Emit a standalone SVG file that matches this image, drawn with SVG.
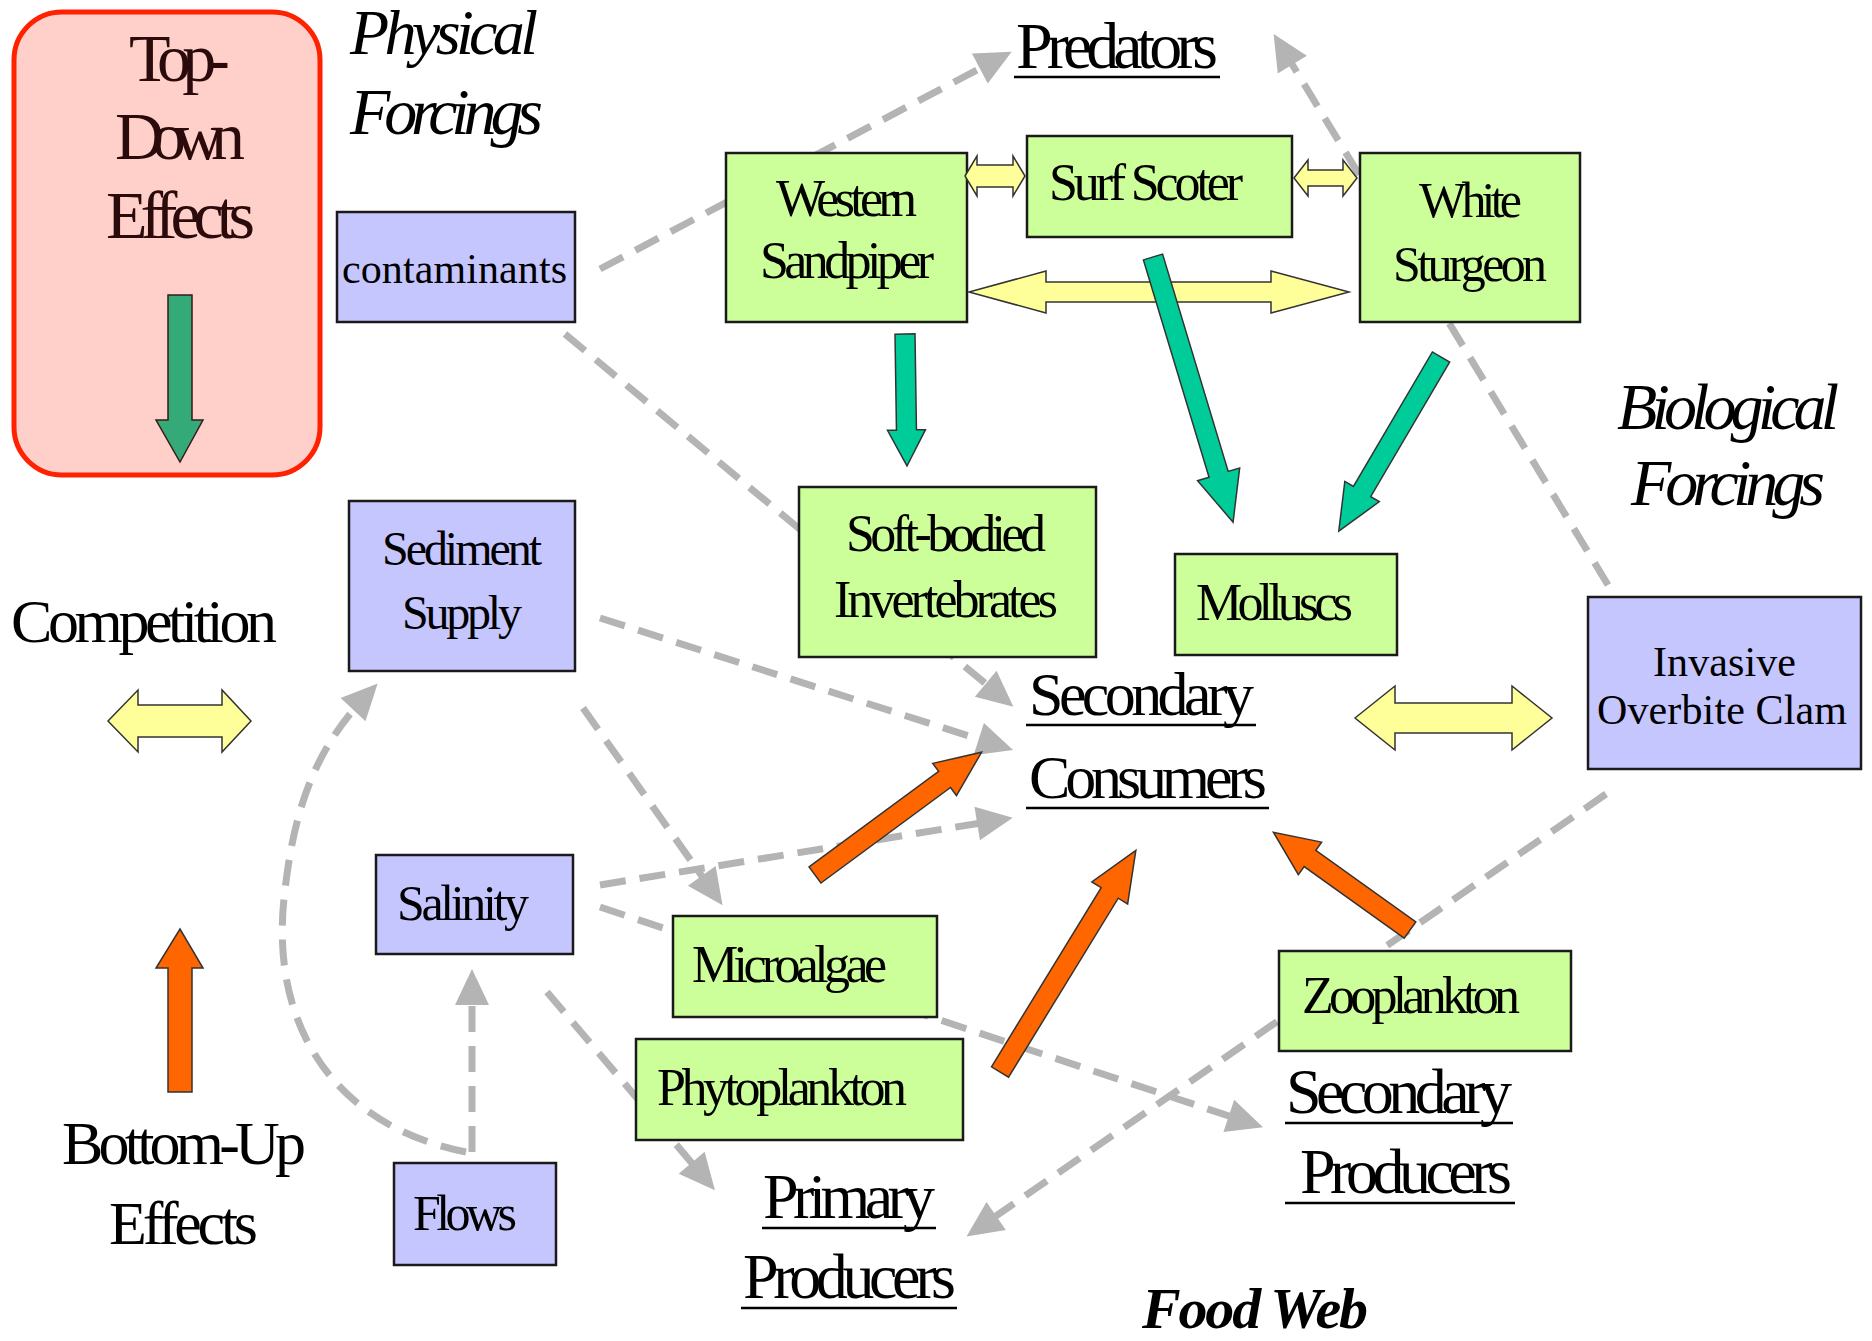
<svg xmlns="http://www.w3.org/2000/svg" width="1872" height="1341" viewBox="0 0 1872 1341">
<defs>
<style>
text{font-family:"Liberation Serif","Times New Roman",serif;fill:#000}
.t{lengthAdjust:spacingAndGlyphs}
.blue{fill:#C6C6FF;stroke:#1a1a1a;stroke-width:2.5}
.green{fill:#CCFF99;stroke:#1a1a1a;stroke-width:2.5}
.dash{fill:none;stroke:#B4B4B4;stroke-width:7;stroke-dasharray:26 14}
.yel{fill:#FFFF99;stroke:#333;stroke-width:1.5}
.teal{fill:#00CC99;stroke:#333;stroke-width:1.5}
.org{fill:#FF6600;stroke:#333;stroke-width:1.5}
.ul{stroke:#000;stroke-width:2.5}
.it{font-style:italic}
.td{fill:#2a0a0a}
</style>
<marker id="ah" markerUnits="userSpaceOnUse" viewBox="-20 -20 40 40" markerWidth="40" markerHeight="40" refX="0" refY="0" orient="auto">
<path d="M20,0 L-16,-17 L-16,17 Z" fill="#B4B4B4"/>
</marker>
</defs>
<rect width="1872" height="1341" fill="#fff"/>

<g id="connectors">
<line class="dash" x1="600" y1="269" x2="994" y2="61" marker-end="url(#ah)"/>
<line class="dash" x1="1608" y1="585" x2="1284" y2="51" marker-end="url(#ah)"/>
<line class="dash" x1="565" y1="334" x2="998" y2="694" marker-end="url(#ah)"/>
<line class="dash" x1="600" y1="618" x2="994" y2="744" marker-end="url(#ah)"/>
<line class="dash" x1="583" y1="708" x2="711" y2="889" marker-end="url(#ah)"/>
<line class="dash" x1="600" y1="885" x2="993" y2="821" marker-end="url(#ah)"/>
<line class="dash" x1="600" y1="907" x2="1244" y2="1121" marker-end="url(#ah)"/>
<line class="dash" x1="547" y1="992" x2="702" y2="1175" marker-end="url(#ah)"/>
<line class="dash" x1="472" y1="1152" x2="472" y2="989" marker-end="url(#ah)"/>
<path class="dash" d="M466,1152 C330,1125 268,1020 285,890 C295,800 320,745 364,698" marker-end="url(#ah)"/>
<line class="dash" x1="1606" y1="794" x2="983" y2="1225" marker-end="url(#ah)"/>
</g>

<g id="top-down">
<rect x="14" y="12" width="306" height="463" rx="48" fill="#FFD0C9" stroke="#FF2200" stroke-width="5"/>
<text class="t td" x="129" y="81" font-size="68" textLength="101">Top-</text>
<text class="t td" x="115" y="159" font-size="68" textLength="130">Down</text>
<text class="t td" x="106" y="238" font-size="68" textLength="149">Effects</text>
<polygon points="168,295 192,295 192,420 203,420 180,462 156,420 168,420" fill="#33AA77" stroke="#3a1a1a" stroke-width="1.5"/>
</g>

<g id="physical-forcings">
<text class="t it" x="350" y="54" font-size="64" textLength="188">Physical</text>
<text class="t it" x="350" y="134" font-size="66" textLength="193">Forcings</text>
</g>

<g id="contaminants">
<rect class="blue" x="337" y="212" width="238" height="110"/>
<text class="t" x="342" y="283" font-size="42" textLength="225">contaminants</text>
</g>

<g id="predators">
<text class="t" x="1016" y="68" font-size="66" textLength="202">Predators</text>
<line class="ul" x1="1014" y1="77" x2="1220" y2="77"/>
</g>

<g id="western-sandpiper">
<rect class="green" x="726" y="153" width="241" height="169"/>
<text class="t" x="776" y="216" font-size="52" textLength="141">Western</text>
<text class="t" x="760" y="278" font-size="52" textLength="174">Sandpiper</text>
</g>

<g id="surf-scoter">
<rect class="green" x="1027" y="136" width="265" height="101"/>
<text class="t" x="1049" y="200" font-size="52" textLength="194">Surf Scoter</text>
</g>

<g id="white-sturgeon">
<rect class="green" x="1360" y="153" width="220" height="169"/>
<text class="t" x="1419" y="217" font-size="50" textLength="103">White</text>
<text class="t" x="1393" y="281" font-size="50" textLength="154">Sturgeon</text>
</g>

<g id="soft-bodied-invertebrates">
<rect class="green" x="799" y="487" width="297" height="170"/>
<text class="t" x="846" y="551" font-size="52" textLength="200">Soft-bodied</text>
<text class="t" x="834" y="617" font-size="52" textLength="224">Invertebrates</text>
</g>

<g id="molluscs">
<rect class="green" x="1175" y="554" width="222" height="101"/>
<text class="t" x="1196" y="620" font-size="52" textLength="157">Molluscs</text>
</g>

<g id="biological-forcings">
<text class="t it" x="1617" y="429" font-size="66" textLength="222">Biological</text>
<text class="t it" x="1631" y="505" font-size="66" textLength="194">Forcings</text>
</g>

<g id="invasive-overbite-clam">
<rect class="blue" x="1588" y="597" width="273" height="172"/>
<text class="t" x="1653" y="676" font-size="42" textLength="143">Invasive</text>
<text class="t" x="1597" y="724" font-size="42" textLength="250">Overbite Clam</text>
</g>

<g id="secondary-consumers">
<text class="t" x="1029" y="715" font-size="62" textLength="225">Secondary</text>
<line class="ul" x1="1026" y1="725" x2="1256" y2="725"/>
<text class="t" x="1029" y="798" font-size="62" textLength="238">Consumers</text>
<line class="ul" x1="1026" y1="808" x2="1269" y2="808"/>
</g>

<g id="competition">
<text class="t" x="11" y="642" font-size="62" textLength="266">Competition</text>
<polygon class="yel" points="108,721 138,690 138,705 222,705 222,690 251,721 222,752 222,737 138,737 138,752"/>
</g>

<g id="sediment-supply">
<rect class="blue" x="349" y="501" width="226" height="170"/>
<text class="t" x="382" y="565" font-size="48" textLength="160">Sediment</text>
<text class="t" x="402" y="629" font-size="48" textLength="120">Supply</text>
</g>

<g id="salinity">
<rect class="blue" x="376" y="855" width="197" height="99"/>
<text class="t" x="397" y="920" font-size="50" textLength="132">Salinity</text>
</g>

<g id="flows">
<rect class="blue" x="394" y="1163" width="162" height="102"/>
<text class="t" x="413" y="1230" font-size="50" textLength="104">Flows</text>
</g>

<g id="bottom-up">
<polygon class="org" points="168,1092 192,1092 192,968 203,968 180,929 156,968 168,968"/>
<text class="t" x="62" y="1164" font-size="62" textLength="244">Bottom-Up</text>
<text class="t" x="109" y="1244" font-size="62" textLength="149">Effects</text>
</g>

<g id="microalgae">
<rect class="green" x="673" y="916" width="264" height="101"/>
<text class="t" x="692" y="982" font-size="52" textLength="195">Microalgae</text>
</g>

<g id="phytoplankton">
<rect class="green" x="636" y="1039" width="327" height="101"/>
<text class="t" x="657" y="1105" font-size="52" textLength="250">Phytoplankton</text>
</g>

<g id="zooplankton">
<rect class="green" x="1279" y="951" width="292" height="100"/>
<text class="t" x="1302" y="1013" font-size="52" textLength="218">Zooplankton</text>
</g>

<g id="primary-producers">
<text class="t" x="763" y="1218" font-size="64" textLength="172">Primary</text>
<line class="ul" x1="762" y1="1228" x2="936" y2="1228"/>
<text class="t" x="743" y="1298" font-size="64" textLength="213">Producers</text>
<line class="ul" x1="741" y1="1308" x2="957" y2="1308"/>
</g>

<g id="secondary-producers">
<text class="t" x="1286" y="1113" font-size="64" textLength="226">Secondary</text>
<line class="ul" x1="1285" y1="1123" x2="1513" y2="1123"/>
<text class="t" x="1300" y="1193" font-size="64" textLength="212">Producers</text>
<line class="ul" x1="1285" y1="1203" x2="1515" y2="1203"/>
</g>

<g id="food-web">
<text class="t" x="1142" y="1328" font-size="58" font-weight="bold" font-style="italic" textLength="226">Food Web</text>
</g>

<g id="interaction-arrows">
<polygon class="yel" points="965,176 977,156 977,165 1013,165 1013,156 1025,176 1013,196 1013,187 977,187 977,196"/>
<polygon class="yel" points="1294,178 1308,160 1308,170 1343,170 1343,160 1357,178 1343,196 1343,186 1308,186 1308,196"/>
<polygon class="yel" points="969,292 1046,271 1046,282 1271,282 1271,271 1349,292 1271,313 1271,302 1046,302 1046,313"/>
<polygon class="yel" points="1355,718 1395,686 1395,703 1512,703 1512,686 1552,718 1512,750 1512,733 1395,733 1395,750"/>
<polygon class="teal" transform="translate(905,334) rotate(89.13)" points="0,-10 96,-10 96,-19 132,0 96,19 96,10 0,10"/>
<polygon class="teal" transform="translate(1153,257) rotate(73.2)" points="0,-10 227,-10 227,-22 277,0 227,22 227,10 0,10"/>
<polygon class="teal" transform="translate(1441,357) rotate(120.4)" points="0,-10 156,-10 156,-20 202,0 156,20 156,10 0,10"/>
<polygon class="org" transform="translate(815,875) rotate(-36.4)" points="0,-10 161,-10 161,-20 207,0 161,20 161,10 0,10"/>
<polygon class="org" transform="translate(1000,1072) rotate(-58.5)" points="0,-10 210,-10 210,-21 260,0 210,21 210,10 0,10"/>
<polygon class="org" transform="translate(1410,930) rotate(-144.4)" points="0,-10 123,-10 123,-20 168,0 123,20 123,10 0,10"/>
</g>
</svg>
